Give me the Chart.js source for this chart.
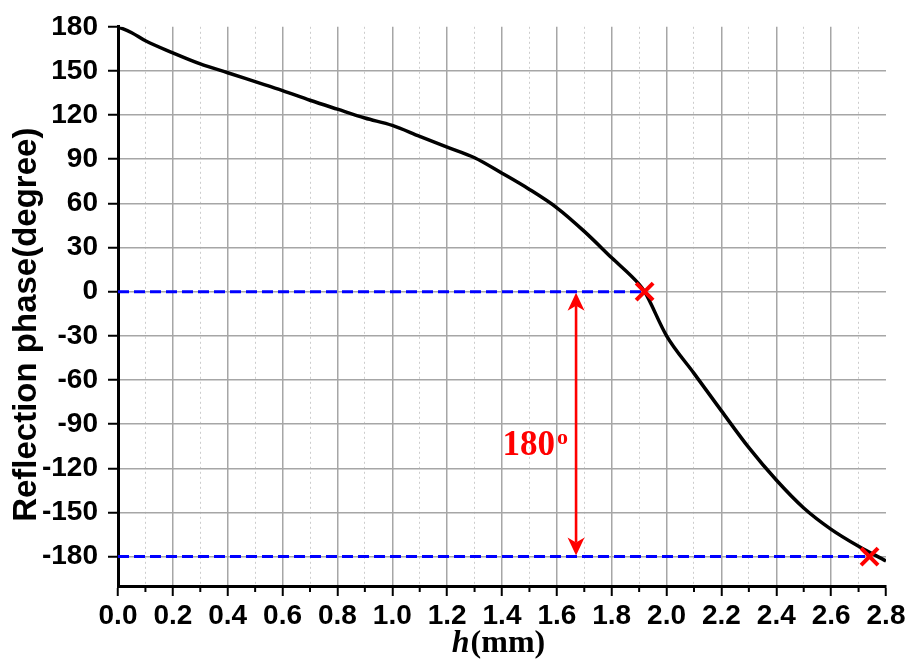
<!DOCTYPE html>
<html><head><meta charset="utf-8">
<script src="https://cdn.jsdelivr.net/npm/chart.js@4/dist/chart.umd.min.js"></script>
<style>html,body{margin:0;padding:0;background:#fff;} #wrap{width:909px;height:668px;}</style>
</head><body><div id="wrap"><canvas id="c" width="909" height="668"></canvas></div>
<script>
// ---- data ----
const hValues     = [0, 0.05, 0.1, 0.2, 0.3, 0.4, 0.5, 0.6, 0.7, 0.8, 0.9, 1.0, 1.1, 1.2, 1.3, 1.4, 1.5, 1.6, 1.7, 1.8, 1.9, 1.92, 2.0, 2.1, 2.2, 2.3, 2.4, 2.5, 2.6, 2.7, 2.8];
const phaseValues = [180, 176, 170.5, 162.3, 154.8, 148.8, 142.7, 136.6, 130.1, 124, 118, 113, 105.5, 98.2, 91, 80.5, 69.5, 57, 41, 23, 5, 0, -30, -55.5, -81, -106, -128, -147, -161.5, -173, -183];
const yTickValues = [-180, -150, -120, -90, -60, -30, 0, 30, 60, 90, 120, 150, 180];
const xTickStep = 0.1;
const zeroLineH = [0, 1.92];
const zeroLinePhase = [0, 0];
const halfLineH = [0, 2.74];
const halfLinePhase = [-180, -180];
const markerH = [1.92, 2.74];
const markerPhase = [0, -180];
const arrowH = [1.67, 1.67];
const arrowPhase = [0, -180];
const annotationLabel = '180';
const annotationSup = 'o';
const xTitleItalic = 'h';
const xTitleRest = '(mm)';
const yTitle = 'Reflection phase(degree)';

const pts = (xs, ys) => xs.map((x, i) => ({x: x, y: ys[i]}));
const isMinorX = v => Math.round(v * 10) % 2 !== 0;

const annot = {
  id: 'annot',
  afterDatasetsDraw(chart) {
    const {ctx, scales: {x, y}} = chart;
    const ax = x.getPixelForValue(arrowH[0]);
    const y1 = y.getPixelForValue(arrowPhase[0]);
    const y2 = y.getPixelForValue(arrowPhase[1]);
    const hl = 19, hw = 8.5, notch = 5;
    ctx.save();
    ctx.strokeStyle = '#ff0000'; ctx.fillStyle = '#ff0000'; ctx.lineWidth = 2.6;
    ctx.beginPath(); ctx.moveTo(ax, y1 + hl - notch); ctx.lineTo(ax, y2 - hl + notch); ctx.stroke();
    ctx.beginPath(); ctx.moveTo(ax, y1 + 1); ctx.lineTo(ax + hw, y1 + hl); ctx.lineTo(ax, y1 + hl - notch); ctx.lineTo(ax - hw, y1 + hl); ctx.closePath(); ctx.fill();
    ctx.beginPath(); ctx.moveTo(ax, y2 - 1); ctx.lineTo(ax + hw, y2 - hl); ctx.lineTo(ax, y2 - hl + notch); ctx.lineTo(ax - hw, y2 - hl); ctx.closePath(); ctx.fill();
    const mid = (y1 + y2) / 2;
    ctx.font = 'bold 35px "Liberation Serif", "Times New Roman", serif';
    ctx.textAlign = 'right'; ctx.textBaseline = 'alphabetic';
    ctx.fillText(annotationLabel, ax - 21, mid + 31);
    ctx.font = 'bold 22px "Liberation Serif", "Times New Roman", serif';
    ctx.textAlign = 'left';
    ctx.fillText(annotationSup, ax - 19, mid + 20);
    ctx.restore();
  },
  afterDraw(chart) {
    const {ctx, scales: {x}, chartArea} = chart;
    ctx.save();
    ctx.strokeStyle = '#000'; ctx.lineWidth = 2;
    x.ticks.forEach(t => {
      if (isMinorX(t.value)) {
        const px = x.getPixelForValue(t.value);
        ctx.beginPath(); ctx.moveTo(px, chartArea.bottom); ctx.lineTo(px, chartArea.bottom + 6); ctx.stroke();
      }
    });
    const fItal = 'italic bold 32px "Liberation Serif", "Times New Roman", serif';
    const fReg = 'bold 32px "Liberation Serif", "Times New Roman", serif';
    ctx.font = fItal; const w1 = ctx.measureText(xTitleItalic).width;
    ctx.font = fReg; const w2 = ctx.measureText(xTitleRest).width;
    const cx = (chartArea.left + chartArea.right) / 2 - 4;
    const start = cx - (w1 + w2) / 2;
    ctx.fillStyle = '#000'; ctx.textBaseline = 'alphabetic'; ctx.textAlign = 'left';
    ctx.font = fItal; ctx.fillText(xTitleItalic, start, 652);
    ctx.font = fReg; ctx.fillText(xTitleRest, start + w1 + 1, 652);
    ctx.restore();
  }
};

new Chart(document.getElementById('c'), {
  type: 'scatter',
  data: {
    datasets: [
      { label: 'markers', data: pts(markerH, markerPhase), showLine: false, pointStyle: 'crossRot',
        pointRadius: 12, pointBorderWidth: 4, pointBorderColor: '#ff0000', pointBackgroundColor: '#ff0000' },
      { label: 'phase', data: pts(hValues, phaseValues), showLine: true, borderColor: '#000', borderWidth: 3.5,
        pointRadius: 0, cubicInterpolationMode: 'monotone', fill: false },
      { label: 'zero', data: pts(zeroLineH, zeroLinePhase), showLine: true, borderColor: '#0000ff', borderWidth: 3,
        borderDash: [11, 5], pointRadius: 0 },
      { label: 'half', data: pts(halfLineH, halfLinePhase), showLine: true, borderColor: '#0000ff', borderWidth: 3,
        borderDash: [11, 5], pointRadius: 0 }
    ]
  },
  options: {
    responsive: false, animation: false, devicePixelRatio: 1,
    layout: { padding: { left: 0, top: 22, right: 23, bottom: 0 } },
    plugins: { legend: { display: false }, tooltip: { enabled: false } },
    scales: {
      x: {
        type: 'linear', min: 0, max: 2.8,
        afterFit: s => { s.height = 82; },
        ticks: {
          stepSize: xTickStep, autoSkip: false, maxRotation: 0, padding: 3, color: '#000',
          font: { family: '"Liberation Sans", Arial, sans-serif', size: 28, weight: 'bold' },
          callback: v => isMinorX(v) ? '' : v.toFixed(1)
        },
        grid: {
          color: c => (c.tick && (Math.abs(c.tick.value - 2.8) < 1e-6)) ? 'rgba(0,0,0,0)' : (c.tick && isMinorX(c.tick.value) ? '#cccccc' : '#a6a6a6'),
          lineWidth: c => (c.tick && isMinorX(c.tick.value)) ? 1 : 1.5,
          tickColor: c => (c.tick && isMinorX(c.tick.value)) ? 'rgba(0,0,0,0)' : '#000',
          tickLength: 10, tickWidth: 2
        },
        border: { color: '#000', width: 3, dash: c => (c.type === 'tick' && c.tick && isMinorX(c.tick.value)) ? [2, 3] : [] },
        title: { display: false }
      },
      y: {
        type: 'linear', min: -200, max: 180,
        afterFit: s => { s.width = 118; },
        afterBuildTicks: s => { s.ticks = yTickValues.map(v => ({ value: v })); },
        ticks: {
          padding: 10, color: '#000',
          font: { family: '"Liberation Sans", Arial, sans-serif', size: 28, weight: 'bold' },
          callback: v => String(v)
        },
        grid: {
          color: c => (c.tick && c.tick.value === 180) ? 'rgba(0,0,0,0)' : '#a6a6a6',
          lineWidth: 1.5, tickColor: '#000', tickLength: 10, tickWidth: 2
        },
        border: { color: '#000', width: 3 },
        title: {
          display: true, text: yTitle + '    ', color: '#000', padding: { top: 7, bottom: 0 },
          font: { family: '"Liberation Sans", Arial, sans-serif', size: 33, weight: 'bold' }
        }
      }
    }
  },
  plugins: [annot]
});
</script></body></html>
